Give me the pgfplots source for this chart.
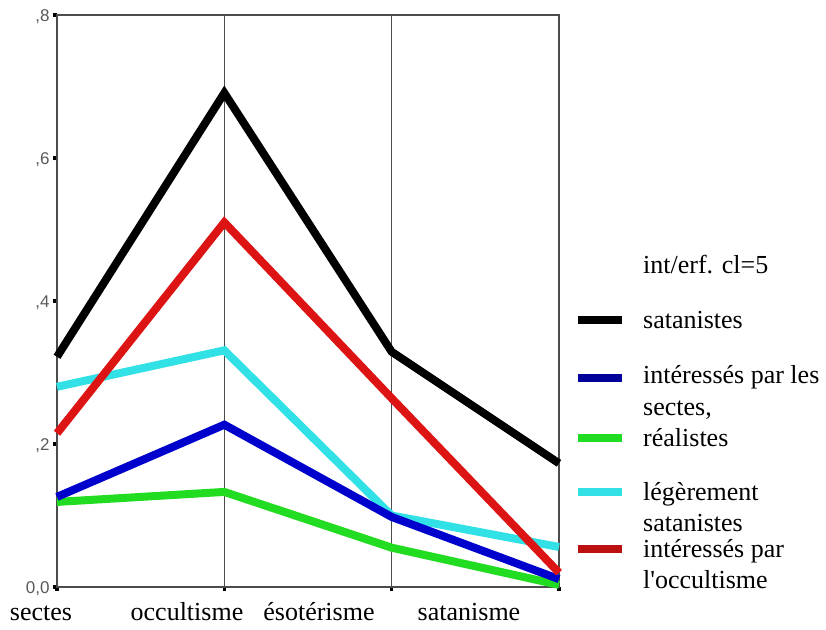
\documentclass[border=0pt]{standalone}
\usepackage{fontspec}
\setmainfont{Liberation Serif}
\newfontfamily\ticksf{Liberation Sans}
\usepackage{pgfplots}
\usepackage{pgfplotstable}
\pgfplotsset{compat=1.18}

\definecolor{cBlue}{RGB}{0,0,205}
\definecolor{cGreen}{RGB}{34,220,34}
\definecolor{cCyan}{RGB}{50,225,230}
\definecolor{cRed}{RGB}{220,20,20}

% columns: satanistes, interesses par les sectes, realistes, legerement satanistes, interesses par l'occultisme
\pgfplotstableread{
x satan sectes real leger occ
0 0.322 0.126 0.119 0.280 0.215
1 0.691 0.227 0.133 0.331 0.510
2 0.329 0.098 0.055 0.100 0.264
3 0.173 0.011 0.003 0.056 0.020
}\datatable

\begin{document}
\begin{tikzpicture}
\path[use as bounding box] (0,0) rectangle (826bp,-630bp);
\begin{axis}[
    at={(57bp,-587bp)}, anchor=south west,
    width=502bp, height=572bp, scale only axis,
    xmin=0, xmax=3, ymin=0, ymax=0.8,
    clip=false,
    xtick={0,1,2,3}, xticklabels={},
    ytick={0,0.2,0.4,0.6,0.8},
    yticklabels={{0,0},{,2},{,4},{,6},{,8}},
    yticklabel style={font=\ticksf\fontsize{17bp}{17bp}\selectfont, text=black!65, yshift=-2bp},
    xtick pos=bottom, ytick pos=left,
    tick align=outside, major tick length=4bp,
    every tick/.style={black, line width=3.5bp},
    xmajorgrids, major grid style={black!70, line width=1bp},
    axis line style={black!70, line width=1.2bp},
    every axis plot/.append style={line width=8bp, line join=miter, no markers},
]
\addplot[cCyan] table[x=x, y=leger] {\datatable};
\addplot[cGreen] table[x=x, y=real] {\datatable};
\addplot[cBlue] table[x=x, y=sectes] {\datatable};
\addplot[cRed] table[x=x, y=occ] {\datatable};
\addplot[black] table[x=x, y=satan] {\datatable};
\end{axis}

\begin{scope}[x=1bp, y=-1bp, every node/.style={font=\fontsize{26bp}{31bp}\selectfont, inner sep=0pt}]
% category names
\node[anchor=base] at (41,620) {sectes};
\node[anchor=base] at (187,620) {occultisme};
\node[anchor=base] at (319,620) {ésotérisme};
\node[anchor=base] at (469,620) {satanisme};
% legend
\node[anchor=base west] at (643,273) {int/erf. cl=5};
\draw[line width=8bp, black] (578,320) -- (622,320);
\node[anchor=base west] at (643,328) {satanistes};
\draw[line width=8bp, cBlue!75!black] (578,378) -- (622,378);
\node[anchor=base west] at (643,383) {intéressés par les};
\node[anchor=base west] at (643,415) {sectes,};
\draw[line width=8bp, cGreen] (578,438) -- (622,438);
\node[anchor=base west] at (643,446) {réalistes};
\draw[line width=8bp, cCyan] (578,492) -- (622,492);
\node[anchor=base west] at (643,500) {légèrement};
\node[anchor=base west] at (643,531) {satanistes};
\draw[line width=8bp, cRed!85!black] (578,549) -- (622,549);
\node[anchor=base west] at (643,557) {intéressés par};
\node[anchor=base west] at (643,588) {l\textquotesingle occultisme};
\end{scope}
\end{tikzpicture}
\end{document}
